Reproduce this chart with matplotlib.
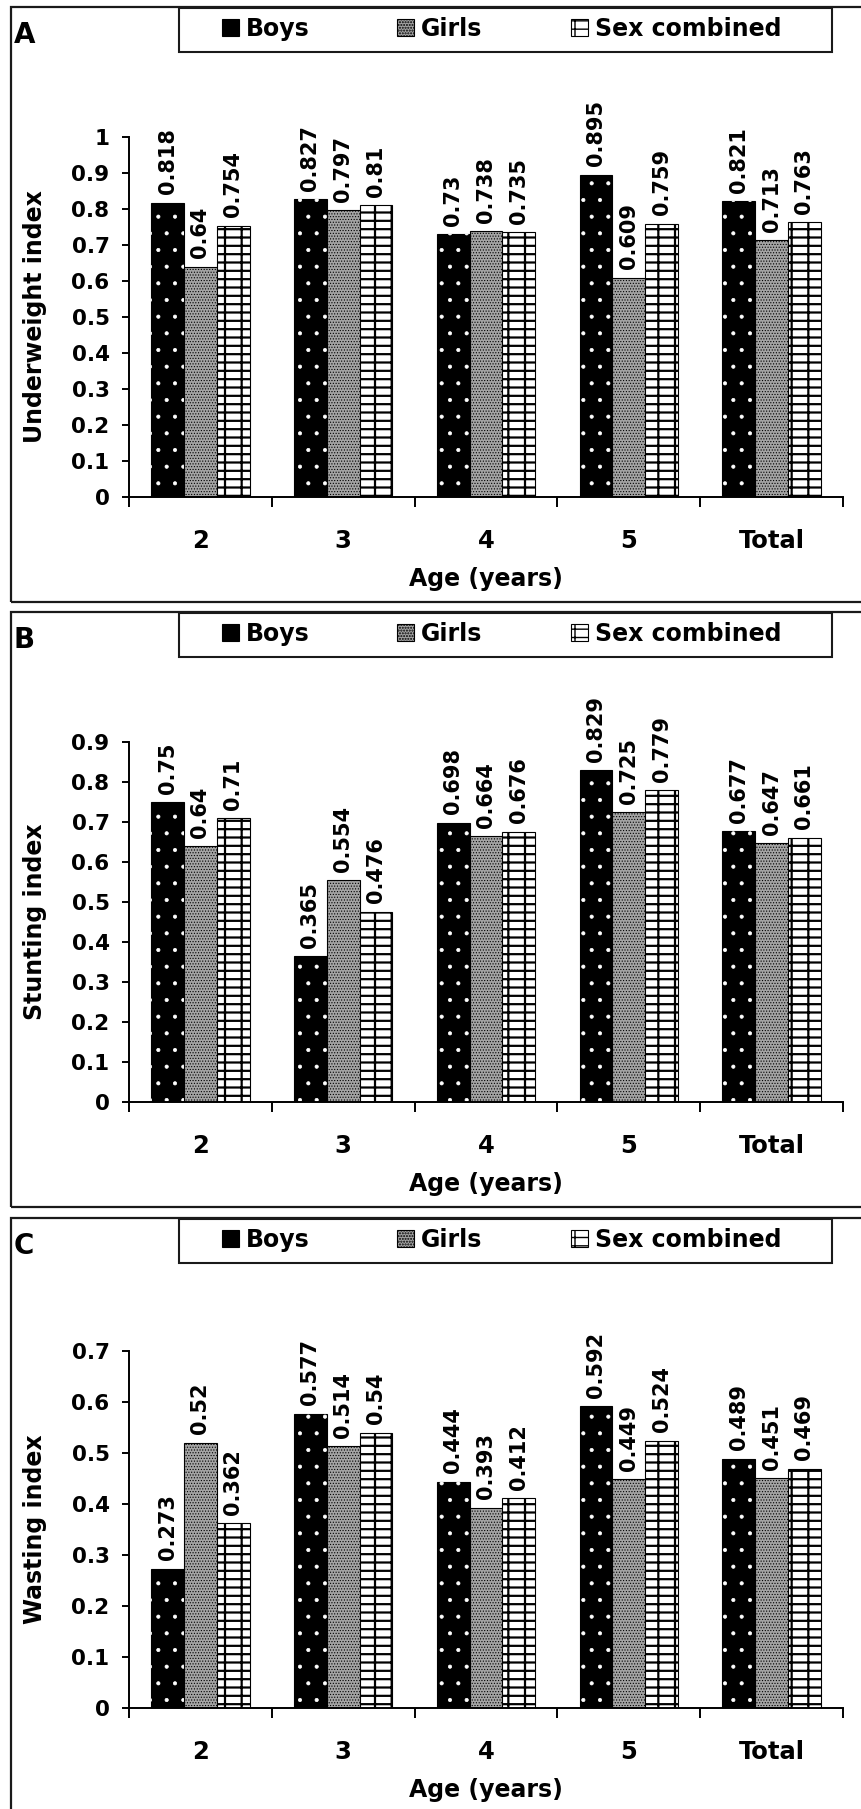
import numpy as np
import matplotlib
matplotlib.use("Agg")
import matplotlib.pyplot as plt
from matplotlib.patches import Rectangle
from matplotlib.ticker import FuncFormatter

# data
categories = ['2', '3', '4', '5', 'Total']
series = ['Boys', 'Girls', 'Sex combined']

underweight_boys = [0.818, 0.827, 0.73, 0.895, 0.821]
underweight_girls = [0.64, 0.797, 0.738, 0.609, 0.713]
underweight_sex = [0.754, 0.81, 0.735, 0.759, 0.763]

stunting_boys = [0.75, 0.365, 0.698, 0.829, 0.677]
stunting_girls = [0.64, 0.554, 0.664, 0.725, 0.647]
stunting_sex = [0.71, 0.476, 0.676, 0.779, 0.661]

wasting_boys = [0.273, 0.577, 0.444, 0.592, 0.489]
wasting_girls = [0.52, 0.514, 0.393, 0.449, 0.451]
wasting_sex = [0.362, 0.54, 0.412, 0.524, 0.469]

panels = [
    ('A', 'Underweight index', underweight_boys, underweight_girls, underweight_sex, 1.0),
    ('B', 'Stunting index', stunting_boys, stunting_girls, stunting_sex, 0.9),
    ('C', 'Wasting index', wasting_boys, wasting_girls, wasting_sex, 0.7),
]

plt.rcParams['font.family'] = ['DejaVu Sans']
plt.rcParams['font.weight'] = 'bold'

W, H = 861, 1809
fig = plt.figure(figsize=(W / 100, H / 100), dpi=100)


def fx(px):
    return px / W


def fy(py):
    return 1 - py / H


def bars(ax, xs, vals, hatch_lw, **kw):
    with plt.rc_context({'hatch.linewidth': hatch_lw}):
        bc = ax.bar(xs, vals, w, **kw)
    for p in bc:
        if hasattr(p, 'set_hatch_linewidth'):
            p.set_hatch_linewidth(hatch_lw)
    return bc


# pixel layout of each panel (top of box, bottom of box, top of axes, x axis)
panel_top = [7, 612, 1218]
panel_bot = [602, 1207, 1840]
axes_top = [137, 742, 1351]
axes_bot = [497, 1102, 1708]
ax_left, ax_right = 129, 843
legend_x = [222, 397, 571]

x = np.arange(len(categories)) + 0.5
w = 0.23

for i, (letter, ylab, boys, girls, sexc, ymax) in enumerate(panels):
    top, bot = panel_top[i], panel_bot[i]

    # outer frame of the panel
    fig.add_artist(Rectangle((fx(11), fy(bot)), fx(900) - fx(11), (bot - top) / H,
                             transform=fig.transFigure, fill=False, lw=1.6,
                             edgecolor='#1a1a1a'))
    fig.text(fx(14), fy(top + 28), letter, ha='left', va='center',
             fontsize=20, fontweight='bold')

    ax = fig.add_axes([fx(ax_left), fy(axes_bot[i]), fx(ax_right) - fx(ax_left),
                       (axes_bot[i] - axes_top[i]) / H])

    b_boys = bars(ax, x - w, boys, 0.5, color='black', edgecolor='black', lw=0.8)
    bars(ax, x - w, boys, 0.5, color='none', edgecolor='white', hatch='.', lw=0)
    b_girls = bars(ax, x, girls, 0.5, color='#a4a4a4', edgecolor='black', lw=0.8,
                   hatch='......')
    b_sex = bars(ax, x + w, sexc, 1.6, color='white', edgecolor='black', lw=0.8,
                 hatch='--|')

    for offs, vals in zip([-w, 0, w], [boys, girls, sexc]):
        for xi, v in zip(x + offs, vals):
            ax.annotate(f'{v:g}', (xi, v), xytext=(0, 6), textcoords='offset points',
                        rotation=90, ha='center', va='bottom', fontsize=15,
                        fontweight='bold')

    ax.set_xlim(0, len(categories))
    ax.set_ylim(0, ymax)
    ax.spines['top'].set_visible(False)
    ax.spines['right'].set_visible(False)
    ax.spines['left'].set_linewidth(1.4)
    ax.spines['bottom'].set_linewidth(1.4)

    ax.set_yticks(np.round(np.arange(0, ymax + 0.001, 0.1), 1))
    ax.yaxis.set_major_formatter(FuncFormatter(lambda v, p: f'{v:g}'))
    ax.tick_params(axis='y', length=5, width=1.4, labelsize=15.5, pad=9)

    ax.set_xticks(np.arange(len(categories) + 1))
    ax.set_xticklabels([])
    ax.set_xticks(x, minor=True)
    ax.set_xticklabels(categories, minor=True)
    ax.tick_params(axis='x', which='major', length=7.5, width=1.4)
    ax.tick_params(axis='x', which='minor', length=0, labelsize=17.5, pad=23)

    ax.set_ylabel(ylab, fontsize=17, fontweight='bold')
    ax.yaxis.set_label_coords((47 - ax_left) / (ax_right - ax_left), 0.5)
    ax.set_xlabel('Age (years)', fontsize=17, fontweight='bold')
    ax.xaxis.set_label_coords(0.5, -70 / (axes_bot[i] - axes_top[i]))

    # legend box at the top of the panel, one entry per column
    fig.add_artist(Rectangle((fx(179), fy(top + 45)), fx(832) - fx(179), 44 / H,
                             transform=fig.transFigure, facecolor='white', lw=1.5,
                             edgecolor='#1a1a1a'))
    for lx, handle, name in zip(legend_x, [b_boys, b_girls, b_sex], series):
        fig.legend([handle], [name], loc='center left',
                   bbox_to_anchor=(fx(lx), fy(top + 22)), frameon=False,
                   borderpad=0, borderaxespad=0, handlelength=0.72,
                   handleheight=0.7, handletextpad=0.3,
                   prop={'size': 17, 'weight': 'bold'})

fig.savefig('out.png', dpi=100)
